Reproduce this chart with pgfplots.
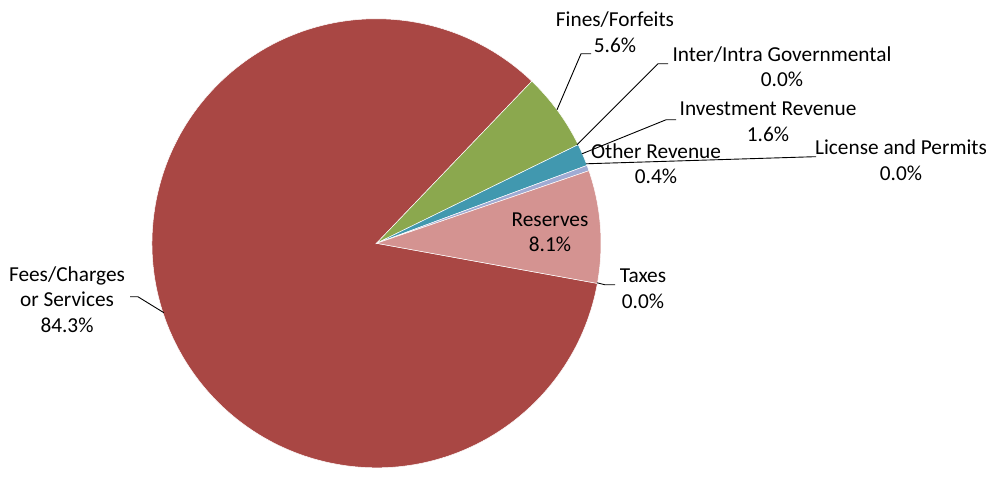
\documentclass[border=0pt]{standalone}
\usepackage{fontspec}
\setmainfont{Carlito}
\usepackage{pgfplots}
\usepackage{pgfplotstable}
\pgfplotsset{compat=1.18}

\definecolor{cFees}{HTML}{A94744}
\definecolor{cFines}{HTML}{8BA84E}
\definecolor{cInter}{HTML}{7E649E}
\definecolor{cInvest}{HTML}{4198AF}
\definecolor{cLicense}{HTML}{DB843D}
\definecolor{cOther}{HTML}{A0ABD3}
\definecolor{cReserves}{HTML}{D49391}
\definecolor{cTaxes}{HTML}{4F81BD}

% share of each revenue source, in order clockwise
\pgfplotstableread{
name     value colour
Fees     84.3  cFees
Fines    5.6   cFines
Inter    0.0   cInter
Invest   1.6   cInvest
License  0.0   cLicense
Other    0.4   cOther
Reserves 8.1   cReserves
Taxes    0.0   cTaxes
}\pietable

\begin{document}
\begin{tikzpicture}[every node/.style={font=\fontsize{21.3}{25.5}\selectfont, align=center, inner sep=0pt, yshift=2.5pt}]
\begin{axis}[
    hide axis, scale only axis,
    width=997pt, height=464pt,
    xmin=0, xmax=997, ymin=0, ymax=464,
    clip=false,
]
    %% keep the full canvas in the bounding box
    \path (axis cs:0,0) rectangle (axis cs:997,464);

    %% slices, clockwise from -10.3 deg
    \pgfmathsetmacro\pieA{-10.3}
    \pgfplotsforeachungrouped \i in {0,...,7}{%
        \pgfplotstablegetelem{\i}{value}\of\pietable \let\pieV\pgfplotsretval
        \pgfplotstablegetelem{\i}{colour}\of\pietable \let\pieC\pgfplotsretval
        \pgfmathsetmacro\pieB{\pieA - 3.6*\pieV}%
        \ifdim\pieV pt>0pt
            \edef\temp{\noexpand\fill[\pieC, draw=white, line width=0.5pt]
                (axis cs:376.5,224.5) -- ++(\pieA:224.5pt)
                arc[start angle=\pieA, end angle=\pieB, radius=224.5pt] -- cycle;}%
            \temp
        \fi
        \global\let\pieA\pieB
    }

    %% leader lines
    \addplot[black, line width=0.9pt] coordinates {(557,358) (581,414) (591,414)};
    \addplot[black, line width=0.9pt] coordinates {(577,323) (658,404) (668,404)};
    \addplot[black, line width=0.9pt] coordinates {(582,314) (666,348) (676,348)};
    \addplot[black, line width=0.9pt] coordinates {(586,304) (812,311) (816,311)};
    \addplot[black, line width=0.9pt] coordinates {(597,185) (605,183) (615,183)};
    \addplot[black, line width=0.9pt] coordinates {(164,155) (138,171) (130,171)};

    %% data labels
    \node at (axis cs:615,433)   {Fines/Forfeits\\5.6\%};
    \node at (axis cs:782,398.5) {Inter/Intra Governmental\\0.0\%};
    \node at (axis cs:768,343.5) {Investment Revenue\\1.6\%};
    \node at (axis cs:656,301.5) {Other Revenue\\0.4\%};
    \node at (axis cs:901,305)   {License and Permits\\0.0\%};
    \node at (axis cs:550,233)   {Reserves\\8.1\%};
    \node at (axis cs:643,176.5) {Taxes\\0.0\%};
    \node at (axis cs:67,166)    {Fees/Charges\\or Services\\84.3\%};
\end{axis}
\end{tikzpicture}
\end{document}
